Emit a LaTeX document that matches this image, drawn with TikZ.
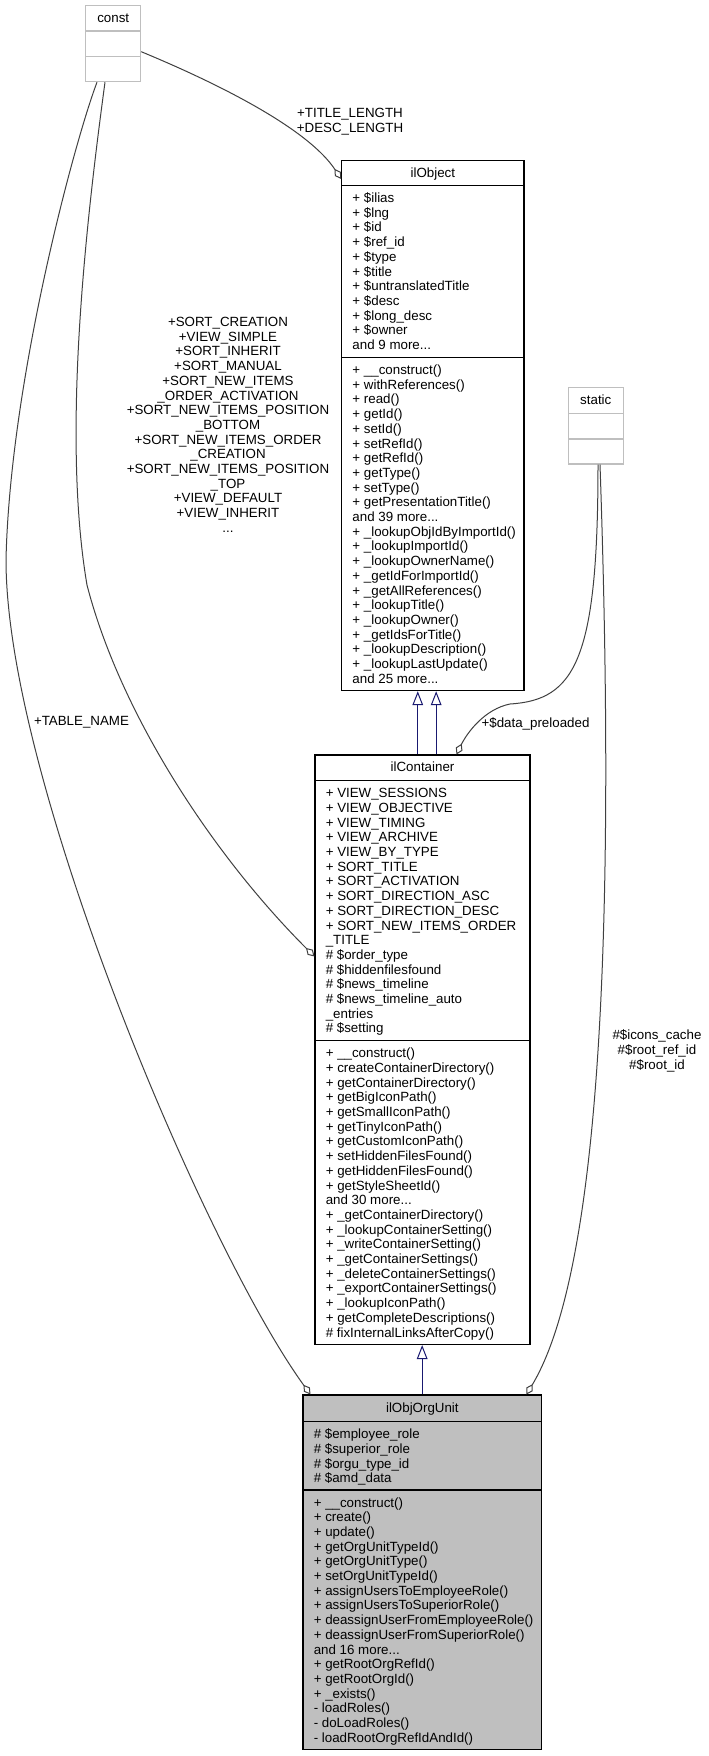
\documentclass[tikz,border=0pt]{standalone}
\usepackage{fontspec}
\setmainfont{Liberation Sans}
\usetikzlibrary{arrows.meta,calc,fit}
\definecolor{edgegray}{HTML}{404040}
\definecolor{boxgray}{HTML}{BFBFBF}
\definecolor{navyline}{HTML}{191970}
\newcommand\threedots{...}
\newcommand\rowsleft[4]{\foreach \rowtext [count=\i] in {#4} {\node[txt, anchor=base west] (#1-\i) at ({#2},{#3+14.7*(\i-1)}) {\rowtext};}}
\newcommand\rowscenter[4]{\foreach \rowtext [count=\i] in {#4} {\node[txt, anchor=base] (#1-\i) at ({#2},{#3+14.7*(\i-1)}) {\rowtext};}}
\begin{document}
\begin{tikzpicture}[x=0.75pt,y=-0.75pt,
  txt/.style={font=\fontsize{10}{11}\selectfont, inner sep=0pt, text=black},
  cbox/.style={draw=black, line width=0.8pt, inner sep=0pt, rectangle},
  gbox/.style={draw=boxgray, line width=0.8pt, inner sep=0pt, rectangle},
  cline/.style={draw=black, line width=0.8pt},
  gline/.style={draw=boxgray, line width=0.8pt},
  agg/.style={draw=edgegray, line width=0.75pt, -{Diamond[open, length=9pt, width=5.5pt, line width=0.75pt]}},
  inh/.style={draw=navyline, line width=0.75pt, -{Triangle[open, length=10.5pt, width=8pt, line width=0.75pt]}},
]
\useasboundingbox (0,0) rectangle (708,1756);

% const
\node[gbox, fit={(85.7,5.7) (140.7,81.7)}] (const) {};
\draw[gline] (85.7,31) -- (140.7,31) (85.7,56.7) -- (140.7,56.7);
\node[txt, anchor=base] (const-t) at (113.2,22.3) {const};

% static
\node[gbox, fit={(568.3,387.7) (623.3,464)}] (static) {};
\draw[gline] (568.3,413.3) -- (623.3,413.3) (568.3,439) -- (623.3,439);
\node[txt, anchor=base] (static-t) at (595.8,404.3) {static};

% ilObject
\node[cbox, fit={(341.7,160.5) (524,690.7)}] (ilObject) {};
\draw[cline] (341.7,185.5) -- (524,185.5) (341.7,357.5) -- (524,357.5);
\node[txt, anchor=base] (ilObject-t) at (432.85,177.5) {ilObject};
\rowsleft{objA}{352.2}{202.5}{+ \$ilias, + \$lng, + \$id, + \$ref\_id, + \$type, + \$title, + \$untranslatedTitle, + \$desc, + \$long\_desc, + \$owner, and 9 more\threedots}
\rowsleft{objM}{352.2}{374.5}{+ \_\_construct(), + withReferences(), + read(), + getId(), + setId(), + setRefId(), + getRefId(), + getType(), + setType(), + getPresentationTitle(), and 39 more\threedots, + \_lookupObjIdByImportId(), + \_lookupImportId(), + \_lookupOwnerName(), + \_getIdForImportId(), + \_getAllReferences(), + \_lookupTitle(), + \_lookupOwner(), + \_getIdsForTitle(), + \_lookupDescription(), + \_lookupLastUpdate(), and 25 more\threedots}

% ilContainer
\node[cbox, fit={(315,755) (530,1344.5)}] (ilContainer) {};
\draw[cline] (315,780.7) -- (530,780.7) (315,1040.7) -- (530,1040.7);
\node[txt, anchor=base] (ilContainer-t) at (422.5,771.8) {ilContainer};
\rowsleft{conA}{325.5}{797.7}{+ VIEW\_SESSIONS, + VIEW\_OBJECTIVE, + VIEW\_TIMING, + VIEW\_ARCHIVE, + VIEW\_BY\_TYPE, + SORT\_TITLE, + SORT\_ACTIVATION, + SORT\_DIRECTION\_ASC, + SORT\_DIRECTION\_DESC, + SORT\_NEW\_ITEMS\_ORDER, \_TITLE, \# \$order\_type, \# \$hiddenfilesfound, \# \$news\_timeline, \# \$news\_timeline\_auto, \_entries, \# \$setting}
\rowsleft{conM}{325.5}{1057.7}{+ \_\_construct(), + createContainerDirectory(), + getContainerDirectory(), + getBigIconPath(), + getSmallIconPath(), + getTinyIconPath(), + getCustomIconPath(), + setHiddenFilesFound(), + getHiddenFilesFound(), + getStyleSheetId(), and 30 more\threedots, + \_getContainerDirectory(), + \_lookupContainerSetting(), + \_writeContainerSetting(), + \_getContainerSettings(), + \_deleteContainerSettings(), + \_exportContainerSettings(), + \_lookupIconPath(), + getCompleteDescriptions(), \# fixInternalLinksAfterCopy()}

% ilObjOrgUnit
\node[cbox, fill=boxgray, fit={(303,1395) (541.7,1749.7)}] (ilObjOrgUnit) {};
\draw[cline] (303,1421.7) -- (541.7,1421.7) (303,1490) -- (541.7,1490);
\node[txt, anchor=base] (ilObjOrgUnit-t) at (422.35,1412) {ilObjOrgUnit};
\rowsleft{orgA}{313.5}{1438.7}{\# \$employee\_role, \# \$superior\_role, \# \$orgu\_type\_id, \# \$amd\_data}
\rowsleft{orgM}{313.5}{1507}{+ \_\_construct(), + create(), + update(), + getOrgUnitTypeId(), + getOrgUnitType(), + setOrgUnitTypeId(), + assignUsersToEmployeeRole(), + assignUsersToSuperiorRole(), + deassignUserFromEmployeeRole(), + deassignUserFromSuperiorRole(), and 16 more\threedots, + getRootOrgRefId(), + getRootOrgId(), + \_exists(), - loadRoles(), - doLoadRoles(), - loadRootOrgRefIdAndId()}

% aggregation edges
\draw[agg] ($(const.east)+(0,8)$) .. controls (224,86) and (309,130) .. ($(ilObject.north west)+(0,19)$);
\draw[agg] ($(const.south)+(-8.2,0)$) .. controls (85,230) and (62,438) .. (87,585) .. controls (119.5,711) and (210,852) .. ($(ilContainer.north west)+(0,202)$);
\draw[agg] ($(const.south)+(-16.2,0)$) .. controls (75,140) and (10,380) .. (6,560) .. controls (6,780) and (205,1249) .. ($(ilObjOrgUnit.north west)+(8,0)$);
\draw[agg] ($(static.south)+(2.2,0)$) .. controls (598,660) and (575,700) .. (510,704) .. controls (485,709) and (467.5,732) .. ($(ilContainer.north west)+(142,0)$);
\draw[agg] ($(static.south)+(4.2,0)$) .. controls (615,900) and (603.5,1266) .. ($(ilObjOrgUnit.north west)+(224,0)$);

% edge labels
\rowscenter{lblA}{350}{117.5}{+TITLE\_LENGTH, +DESC\_LENGTH}
\rowscenter{lblB}{228}{326.5}{+SORT\_CREATION, +VIEW\_SIMPLE, +SORT\_INHERIT, +SORT\_MANUAL, +SORT\_NEW\_ITEMS, \_ORDER\_ACTIVATION, +SORT\_NEW\_ITEMS\_POSITION, \_BOTTOM, +SORT\_NEW\_ITEMS\_ORDER, \_CREATION, +SORT\_NEW\_ITEMS\_POSITION, \_TOP, +VIEW\_DEFAULT, +VIEW\_INHERIT, \threedots}
\node[txt, anchor=base] (lblC) at (81.5,725.8) {+TABLE\_NAME};
\node[txt, anchor=base] (lblD) at (535.5,727.5) {+\$data\_preloaded};
\rowscenter{lblE}{657}{1039.8}{\#\$icons\_cache, \#\$root\_ref\_id, \#\$root\_id}

% inheritance edges
\coordinate (inhA) at ($(ilContainer.north west)+(103.3,0)$);
\coordinate (inhB) at ($(ilContainer.north west)+(121.7,0)$);
\coordinate (inhC) at ($(ilObjOrgUnit.north west)+(119.7,0)$);
\draw[inh] (inhA) -- (inhA |- ilObject.south);
\draw[inh] (inhB) -- (inhB |- ilObject.south);
\draw[inh] (inhC) -- (inhC |- ilContainer.south);
\end{tikzpicture}
\end{document}
